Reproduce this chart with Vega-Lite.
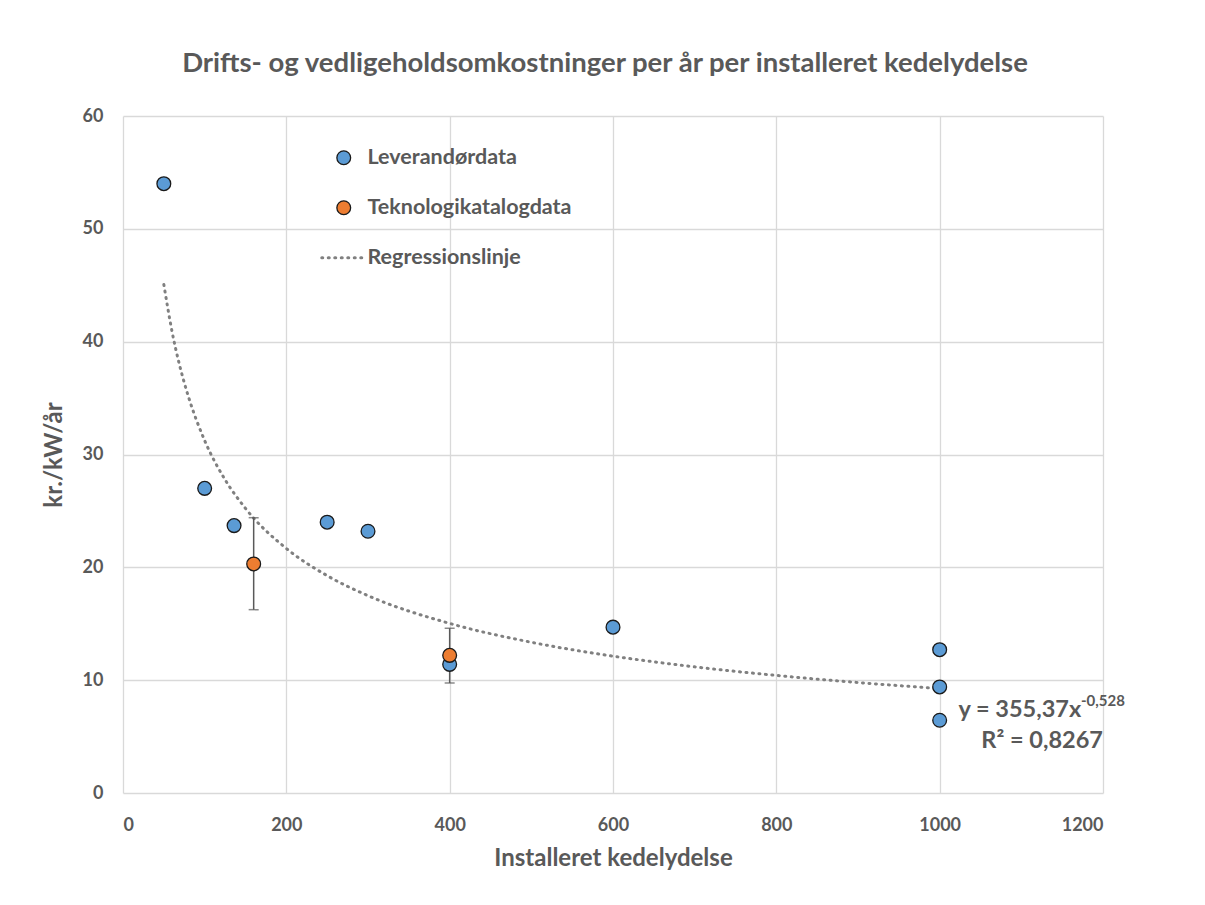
{
  "$schema": "https://vega.github.io/schema/vega-lite/v6.json",
  "width": 980,
  "height": 677,
  "autosize": {"type": "none"},
  "padding": {"left": 123, "top": 116, "right": 102, "bottom": 112},
  "background": "white",
  "title": {
    "text": "Drifts- og vedligeholdsomkostninger per år per installeret kedelydelse",
    "font": "Lato",
    "fontSize": 27.5,
    "fontWeight": "bold",
    "color": "#595959",
    "anchor": "middle",
    "frame": "group",
    "offset": 30,
    "dx": -8
  },
  "datasets": {
    "points": [
      {"kW": 50, "kr": 54, "serie": "Leverandørdata"},
      {"kW": 100, "kr": 27, "serie": "Leverandørdata"},
      {"kW": 136, "kr": 23.7, "serie": "Leverandørdata"},
      {"kW": 250, "kr": 24, "serie": "Leverandørdata"},
      {"kW": 300, "kr": 23.2, "serie": "Leverandørdata"},
      {"kW": 400, "kr": 11.4, "serie": "Leverandørdata"},
      {"kW": 600, "kr": 14.7, "serie": "Leverandørdata"},
      {"kW": 1000, "kr": 12.7, "serie": "Leverandørdata"},
      {"kW": 1000, "kr": 9.4, "serie": "Leverandørdata"},
      {"kW": 1000, "kr": 6.45, "serie": "Leverandørdata"},
      {"kW": 160, "kr": 20.3, "serie": "Teknologikatalogdata", "lo": 16.25, "hi": 24.4},
      {"kW": 400, "kr": 12.2, "serie": "Teknologikatalogdata", "lo": 9.75, "hi": 14.6}
    ],
    "regression": [
      {"kW": 50, "kr": 45.06, "serie": "Regressionslinje"},
      {"kW": 60, "kr": 40.92, "serie": "Regressionslinje"},
      {"kW": 75, "kr": 36.37, "serie": "Regressionslinje"},
      {"kW": 80, "kr": 35.15, "serie": "Regressionslinje"},
      {"kW": 100, "kr": 31.24, "serie": "Regressionslinje"},
      {"kW": 125, "kr": 27.77, "serie": "Regressionslinje"},
      {"kW": 150, "kr": 25.22, "serie": "Regressionslinje"},
      {"kW": 200, "kr": 21.67, "serie": "Regressionslinje"},
      {"kW": 250, "kr": 19.26, "serie": "Regressionslinje"},
      {"kW": 300, "kr": 17.49, "serie": "Regressionslinje"},
      {"kW": 400, "kr": 15.03, "serie": "Regressionslinje"},
      {"kW": 500, "kr": 13.36, "serie": "Regressionslinje"},
      {"kW": 600, "kr": 12.13, "serie": "Regressionslinje"},
      {"kW": 700, "kr": 11.18, "serie": "Regressionslinje"},
      {"kW": 800, "kr": 10.42, "serie": "Regressionslinje"},
      {"kW": 900, "kr": 9.79, "serie": "Regressionslinje"},
      {"kW": 1000, "kr": 9.26, "serie": "Regressionslinje"}
    ],
    "note": [{"label": "fit"}]
  },
  "layer": [
    {
      "data": {"name": "regression"},
      "mark": {"type": "line", "strokeWidth": 3, "strokeDash": [1, 5.5], "strokeCap": "round", "interpolate": "monotone"},
      "encoding": {
        "x": {"field": "kW", "type": "quantitative", "scale": {"domain": [0, 1200], "nice": false},
          "axis": {"values": [0, 200, 400, 600, 800, 1000, 1200], "format": "d", "title": "Installeret kedelydelse", "labelPadding": 23, "titlePadding": 12}},
        "y": {"field": "kr", "type": "quantitative", "scale": {"domain": [0, 60], "nice": false},
          "axis": {"values": [0, 10, 20, 30, 40, 50, 60], "format": "d", "title": "kr./kW/år", "labelPadding": 20, "titlePadding": 16}},
        "stroke": {
          "field": "serie",
          "type": "nominal",
          "scale": {"domain": ["Leverandørdata", "Teknologikatalogdata", "Regressionslinje"], "range": ["#1a1a1a", "#1a1a1a", "#808080"]},
          "legend": {
            "orient": "none",
            "legendX": 210,
            "legendY": 31,
            "title": null,
            "padding": 0,
            "symbolSize": 1936,
            "rowPadding": 27,
            "labelOffset": 13,
            "labelLimit": 400,
            "labelFont": "Lato",
            "labelFontSize": 21.5,
            "labelFontWeight": "bold",
            "labelColor": "#595959",
            "encode": {
              "symbols": {
                "update": {
                  "shape": {"signal": "datum.value === 'Regressionslinje' ? 'M-1,0H1' : 'circle'"},
                  "size": {"signal": "datum.value === 'Regressionslinje' ? 1936 : 190"},
                  "strokeWidth": {"signal": "datum.value === 'Regressionslinje' ? 3 : 1.3"},
                  "strokeDash": {"signal": "datum.value === 'Regressionslinje' ? [1, 5.5] : null"},
                  "strokeCap": {"value": "round"},
                  "opacity": {"value": 1},
                  "fillOpacity": {"value": 1}
                }
              }
            }
          }
        }
      }
    },
    {
      "data": {"name": "points"},
      "transform": [{"filter": "isValid(datum.lo)"}],
      "mark": {"type": "rule", "color": "#595959", "strokeWidth": 1.5},
      "encoding": {
        "x": {"field": "kW", "type": "quantitative"},
        "y": {"field": "lo", "type": "quantitative"},
        "y2": {"field": "hi"}
      }
    },
    {
      "data": {"name": "points"},
      "transform": [{"filter": "isValid(datum.lo)"}],
      "mark": {"type": "tick", "orient": "horizontal", "color": "#595959", "size": 10, "thickness": 1.5},
      "encoding": {
        "x": {"field": "kW", "type": "quantitative"},
        "y": {"field": "lo", "type": "quantitative"}
      }
    },
    {
      "data": {"name": "points"},
      "transform": [{"filter": "isValid(datum.lo)"}],
      "mark": {"type": "tick", "orient": "horizontal", "color": "#595959", "size": 10, "thickness": 1.5},
      "encoding": {
        "x": {"field": "kW", "type": "quantitative"},
        "y": {"field": "hi", "type": "quantitative"}
      }
    },
    {
      "data": {"name": "points"},
      "mark": {"type": "point", "shape": "circle", "filled": true, "size": 190, "strokeWidth": 1.3, "opacity": 1},
      "encoding": {
        "x": {"field": "kW", "type": "quantitative"},
        "y": {"field": "kr", "type": "quantitative"},
        "fill": {
          "field": "serie",
          "type": "nominal",
          "scale": {"domain": ["Leverandørdata", "Teknologikatalogdata", "Regressionslinje"], "range": ["#5b9bd5", "#ed7d31", "transparent"]},
          "legend": {
            "orient": "none",
            "legendX": 210,
            "legendY": 31,
            "title": null,
            "padding": 0,
            "symbolSize": 1936,
            "rowPadding": 27,
            "labelOffset": 13,
            "labelLimit": 400,
            "labelFont": "Lato",
            "labelFontSize": 21.5,
            "labelFontWeight": "bold",
            "labelColor": "#595959",
            "encode": {
              "symbols": {
                "update": {
                  "shape": {"signal": "datum.value === 'Regressionslinje' ? 'M-1,0H1' : 'circle'"},
                  "size": {"signal": "datum.value === 'Regressionslinje' ? 1936 : 190"},
                  "strokeWidth": {"signal": "datum.value === 'Regressionslinje' ? 3 : 1.3"},
                  "strokeDash": {"signal": "datum.value === 'Regressionslinje' ? [1, 5.5] : null"},
                  "strokeCap": {"value": "round"},
                  "opacity": {"value": 1},
                  "fillOpacity": {"value": 1}
                }
              }
            }
          }
        },
        "stroke": {"field": "serie", "type": "nominal"}
      }
    },
    {
      "data": {"name": "note"},
      "mark": {"type": "text", "text": "y = 355,37x", "align": "left", "baseline": "alphabetic", "font": "Lato", "fontSize": 23.5, "fontWeight": "bold", "color": "#595959"},
      "encoding": {"x": {"datum": 1023}, "y": {"datum": 6.76}}
    },
    {
      "data": {"name": "note"},
      "mark": {"type": "text", "text": "-0,528", "align": "left", "baseline": "alphabetic", "font": "Lato", "fontSize": 15, "fontWeight": "bold", "color": "#595959"},
      "encoding": {"x": {"datum": 1173}, "y": {"datum": 7.75}}
    },
    {
      "data": {"name": "note"},
      "mark": {"type": "text", "text": "R² = 0,8267", "align": "right", "baseline": "alphabetic", "font": "Lato", "fontSize": 23.5, "fontWeight": "bold", "color": "#595959"},
      "encoding": {"x": {"datum": 1200}, "y": {"datum": 3.99}}
    }
  ],
  "config": {
    "view": {"stroke": null},
    "axis": {
      "labelFont": "Lato",
      "labelFontWeight": "bold",
      "labelFontSize": 18,
      "labelColor": "#595959",
      "titleFont": "Lato",
      "titleFontWeight": "bold",
      "titleFontSize": 24,
      "titleColor": "#595959",
      "gridColor": "#d9d9d9",
      "gridWidth": 1.3,
      "domain": false,
      "ticks": false
    }
  }
}
